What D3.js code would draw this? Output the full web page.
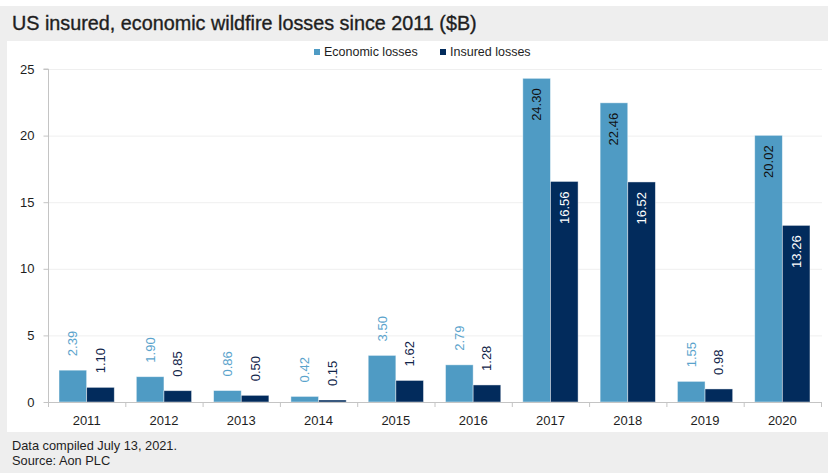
<!DOCTYPE html>
<html>
<head>
<meta charset="utf-8">
<script src="https://cdn.jsdelivr.net/npm/d3@7"></script>
<style>
  html, body { margin: 0; padding: 0; background: #fff; }
  svg { display: block; }
</style>
</head>
<body>
<svg id="chart" width="828" height="473"></svg>
<script>
// Wildfire losses by year, $B
const years = ["2011", "2012", "2013", "2014", "2015", "2016", "2017", "2018", "2019", "2020"];
const economicLosses = [2.39, 1.90, 0.86, 0.42, 3.50, 2.79, 24.30, 22.46, 1.55, 20.02];
const insuredLosses = [1.10, 0.85, 0.50, 0.15, 1.62, 1.28, 16.56, 16.52, 0.98, 13.26];
const seriesNames = ["Economic losses", "Insured losses"];
const yTicks = [0, 5, 10, 15, 20, 25];

const W = 828, H = 473;
const colors = { econ: "#4f9bc4", insured: "#022b5c" };
const font = "'Liberation Sans', Arial, sans-serif";

const svg = d3.select("#chart");

// Frame: grey title band, white plot panel, grey footer
svg.append("rect").attr("x", 0).attr("y", 6).attr("width", W).attr("height", H - 6).attr("fill", "#eeeeee");
svg.append("rect").attr("x", 7).attr("y", 41).attr("width", W - 7).attr("height", 391).attr("fill", "#ffffff");

svg.append("text")
  .attr("x", 12).attr("y", 30)
  .attr("font-family", font).attr("font-size", 19.8).attr("fill", "#1e1e1e")
  .attr("stroke", "#1e1e1e").attr("stroke-width", 0.35)
  .text("US insured, economic wildfire losses since 2011 ($B)");

const footer = svg.append("g").attr("font-family", font).attr("font-size", 12.8).attr("fill", "#1e1e1e");
footer.append("text").attr("x", 12).attr("y", 450).text("Data compiled July 13, 2021.");
footer.append("text").attr("x", 12).attr("y", 465).text("Source: Aon PLC");

// Scales
const x0 = d3.scaleBand().domain(years).range([48, 821]).paddingInner(0.285).paddingOuter(0.1425);
const x1 = d3.scaleBand().domain(["econ", "insured"]).range([0, x0.bandwidth()]);
const y = d3.scaleLinear().domain([0, 25]).range([402, 69]);

// Gridlines
svg.append("g").selectAll("line").data(yTicks.filter(d => d > 0)).join("line")
  .attr("x1", 48).attr("x2", 822)
  .attr("y1", d => y(d) + 0.5).attr("y2", d => y(d) + 0.5)
  .attr("stroke", "#efefef").attr("stroke-width", 1);

// Y axis
const yAxis = svg.append("g").attr("transform", "translate(48.5,0)")
  .call(d3.axisLeft(y).tickValues(yTicks).tickSize(5).tickPadding(9));
yAxis.select(".domain").attr("stroke", "#c4c4c4").attr("d", `M-5,${y(25)}H0V${y(0)}`);
yAxis.selectAll(".tick line").attr("stroke", "#c4c4c4");
yAxis.selectAll(".tick text").attr("font-family", font).attr("font-size", 13).attr("fill", "#1e1e1e");

// Bars
const data = years.map((yr, i) => ({ year: yr, econ: economicLosses[i], insured: insuredLosses[i] }));
const groups = svg.append("g").selectAll("g").data(data).join("g")
  .attr("transform", d => `translate(${x0(d.year)},0)`);

const barData = d => ["econ", "insured"].map(k => ({ key: k, value: d[k] }));

groups.selectAll("rect").data(barData).join("rect")
  .attr("x", d => x1(d.key)).attr("width", x1.bandwidth())
  .attr("y", d => y(d.value)).attr("height", d => y(0) - y(d.value))
  .attr("fill", d => colors[d.key])
  .attr("stroke", "rgba(255,255,255,0.55)").attr("stroke-width", 0.8);

// Rotated value labels: inside the top of tall bars, above short ones
groups.selectAll("text.val").data(barData).join("text")
  .attr("class", "val")
  .attr("font-family", font).attr("font-size", 13)
  .attr("dominant-baseline", "central")
  .attr("transform", d => {
    const cx = x1(d.key) + x1.bandwidth() / 2;
    const inside = d.value > 10;
    const yy = inside ? y(d.value) + 10 : y(d.value) - 14;
    return `translate(${cx},${yy}) rotate(-90)`;
  })
  .attr("text-anchor", d => d.value > 10 ? "end" : "start")
  .attr("fill", d => {
    if (d.value > 10) return d.key === "econ" ? "#111111" : "#ffffff";
    return d.key === "econ" ? "#5aa3cc" : "#12254a";
  })
  .text(d => d.value.toFixed(2));

// X axis: baseline, boundary ticks, year labels
const xAxis = svg.append("g");
xAxis.append("line").attr("x1", 48).attr("x2", 821).attr("y1", 402.5).attr("y2", 402.5).attr("stroke", "#c4c4c4");
const bounds = d3.range(years.length + 1).map(i => 48 + i * x0.step());
xAxis.selectAll("line.tk").data(bounds).join("line").attr("class", "tk")
  .attr("x1", d => d + 0.5).attr("x2", d => d + 0.5).attr("y1", 402).attr("y2", 407)
  .attr("stroke", "#c4c4c4");
xAxis.selectAll("text").data(years).join("text")
  .attr("x", d => x0(d) + x0.bandwidth() / 2).attr("y", 425)
  .attr("text-anchor", "middle")
  .attr("font-family", font).attr("font-size", 13).attr("fill", "#1e1e1e")
  .text(d => d);

// Legend
const legend = svg.append("g").attr("font-family", font).attr("font-size", 12.5).attr("fill", "#1e1e1e");
const legendX = [314, 440];
seriesNames.forEach((name, i) => {
  legend.append("rect").attr("x", legendX[i]).attr("y", 49).attr("width", 6).attr("height", 6)
    .attr("fill", i === 0 ? colors.econ : colors.insured);
  legend.append("text").attr("x", legendX[i] + 10).attr("y", 55.5).text(name);
});
</script>
</body>
</html>
